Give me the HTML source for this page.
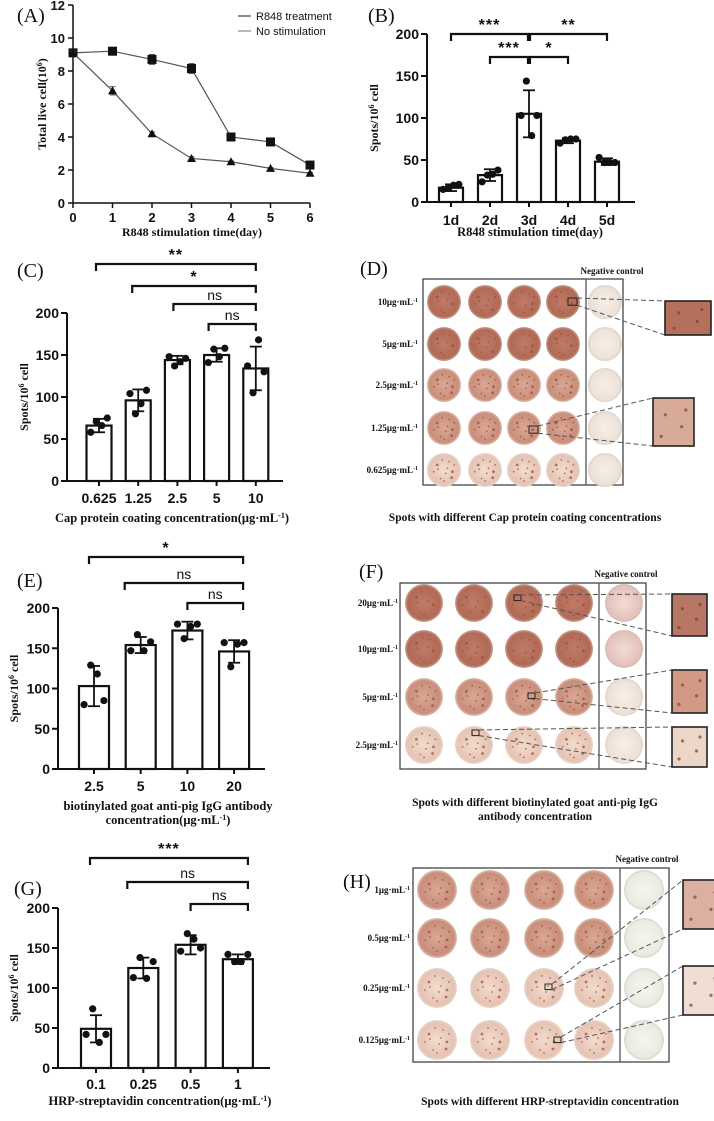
<!DOCTYPE html>
<html><head><meta charset="utf-8"><style>
html,body{margin:0;padding:0;background:#fff}
svg{display:block}
.tk{font-family:"Liberation Sans",sans-serif;font-weight:bold;font-size:13px;fill:#111}
.tt{font-family:"Liberation Serif",serif;font-weight:bold;font-size:12px;fill:#111}
.pl{font-family:"Liberation Serif",serif;font-size:20px;fill:#111}
.sig{font-family:"Liberation Sans",sans-serif;font-size:14px;fill:#111}
.rl{font-family:"Liberation Serif",serif;font-weight:bold;font-size:9px;fill:#111}
</style></head><body>
<svg id="fig" width="714" height="1121" viewBox="0 0 714 1121" xmlns="http://www.w3.org/2000/svg">
<defs>
<radialGradient id="gDark"><stop offset="0" stop-color="#c07a66"/><stop offset="0.85" stop-color="#b06a55"/><stop offset="1" stop-color="#caa092"/></radialGradient>
<radialGradient id="gMed"><stop offset="0" stop-color="#d9a896"/><stop offset="0.85" stop-color="#c98e7a"/><stop offset="1" stop-color="#dcbfb2"/></radialGradient>
<radialGradient id="gLight"><stop offset="0" stop-color="#f2dcd0"/><stop offset="0.85" stop-color="#e6c3b3"/><stop offset="1" stop-color="#e6d6cc"/></radialGradient>
<radialGradient id="gCtrl"><stop offset="0" stop-color="#f6efe8"/><stop offset="0.85" stop-color="#ede2d8"/><stop offset="1" stop-color="#ddd2c8"/></radialGradient>
<radialGradient id="gCtrlP"><stop offset="0" stop-color="#f2dcd6"/><stop offset="0.85" stop-color="#e3c3bc"/><stop offset="1" stop-color="#d8bab2"/></radialGradient>
<radialGradient id="gCtrlG"><stop offset="0" stop-color="#f6f6ee"/><stop offset="0.85" stop-color="#ecebe2"/><stop offset="1" stop-color="#d8d8ce"/></radialGradient>
</defs>
<g id="root"></g>
</svg>
<script>
// Panel A data
const aDays = [0,1,2,3,4,5,6];
const aR848 = [9.1,9.2,8.7,8.15,4.0,3.7,2.3];
const aR848Err = [0.1,0.1,0.3,0.3,0.1,0.1,0.1];
const aNoStim = [9.1,6.8,4.2,2.7,2.5,2.1,1.8];
const aNoStimErr = [0.1,0.25,0.1,0.1,0.05,0.05,0.05];
const aYTicks = [0,2,4,6,8,10,12];
// Panel B data
const bCats = ["1d","2d","3d","4d","5d"];
const bMeans = [17,32,105,73,48];
const bSD = [4,7,28,3,4];
const bPoints = [[15,17,20,21],[24,32,33,38],[103,144,79,103],[70,74,75,75],[53,47,47,47]];
// Panel C data
const cCats = ["0.625","1.25","2.5","5","10"];
const cMeans = [66,96,144,150,134];
const cSD = [8,13,5,8,26];
const cPoints = [[58,71,66,75],[104,80,92,108],[148,137,142,146],[141,157,148,158],[137,105,168,130]];
// Panel E data
const eCats = ["2.5","5","10","20"];
const eMeans = [103,154,172,146];
const eSD = [25,10,11,14];
const ePoints = [[80,129,118,85],[147,167,147,158],[180,162,177,180],[157,127,155,157]];
// Panel G data
const gCats = ["0.1","0.25","0.5","1"];
const gMeans = [49,125,154,136];
const gSD = [17,13,12,6];
const gPoints = [[42,74,32,42],[113,138,112,133],[146,168,161,150],[142,133,133,142]];
const barYTicks = [0,50,100,150,200];

const NS="http://www.w3.org/2000/svg";
const root=document.getElementById('root');
function mk(tag,attrs,parent,text){const e=document.createElementNS(NS,tag);for(const k in attrs)e.setAttribute(k,attrs[k]);if(text!==undefined)e.textContent=text;(parent||root).appendChild(e);return e;}
function line(x1,y1,x2,y2,w,p,c){return mk('line',{x1,y1,x2,y2,stroke:c||'#111','stroke-width':w||1.5},p);}

// Panel A
(function(){
  const g=mk('g',{});
  
  
  const x0=73,x1=310,yb=203,yt=5;
  const X=d=>x0+(x1-x0)*d/6, Y=v=>yb-(yb-yt)*v/12;
  line(x0,yt,x0,yb,1.5,g);line(x0,yb,x1,yb,1.5,g);
  aYTicks.forEach(t=>{line(x0-5,Y(t),x0,Y(t),1.5,g);const tx=mk('text',{x:x0-8,y:Y(t)+5,'text-anchor':'end',class:'tk'},g,t);});
  aDays.forEach(d=>{line(X(d),yb,X(d),yb+5,1.5,g);const tx=mk('text',{x:X(d),y:yb+19,'text-anchor':'middle',class:'tk'},g,d);});
  function series(vals,errs,shape,name){
    const s=mk('g',{},g);
    mk('polyline',{points:vals.map((v,i)=>X(aDays[i])+','+Y(v)).join(' '),fill:'none',stroke:'#555','stroke-width':1.2},s);
    vals.forEach((v,i)=>{const cx=X(aDays[i]),cy=Y(v);
      line(cx,Y(v+errs[i]),cx,Y(v-errs[i]),1,s,'#555');line(cx-3,Y(v+errs[i]),cx+3,Y(v+errs[i]),1,s,'#555');line(cx-3,Y(v-errs[i]),cx+3,Y(v-errs[i]),1,s,'#555');
      let m;
      if(shape==='sq')m=mk('rect',{x:cx-4.5,y:cy-4.5,width:9,height:9,fill:'#111'},s);
      else m=mk('polygon',{points:`${cx},${cy-4.5} ${cx+4.5},${cy+3.5} ${cx-4.5},${cy+3.5}`,fill:'#111'},s);
      });
  }
  series(aR848,aR848Err,'sq','r848-treatment-series');
  series(aNoStim,aNoStimErr,'tri','no-stimulation-series');
  const lg=mk('g',{},g);
  line(238,16,251,16,1.2,lg,'#444');mk('text',{x:256,y:20,class:'tk','font-weight':'normal',style:'font-weight:normal;font-size:11px'},lg,'R848 treatment');
  line(238,31,251,31,1.2,lg,'#888');mk('text',{x:256,y:35,class:'tk',style:'font-weight:normal;font-size:11px'},lg,'No stimulation');
  const yt2=mk('text',{x:0,y:0,class:'tt',transform:`translate(46,104) rotate(-90)`,'text-anchor':'middle'},g);
  yt2.innerHTML='Total live cell(10<tspan dy="-4" font-size="8">6</tspan><tspan dy="4">)</tspan>';
  
  const xt=mk('text',{x:192,y:236,'text-anchor':'middle',class:'tt'},g,'R848 stimulation time(day)');
  
})();

function barChart(o){
  const g=mk('g',{});
  
  
  const Y=v=>o.yb-(o.yb-o.yt)*v/200;
  const X=i=>o.c0+o.step*i;
  line(o.ax,o.yt,o.ax,o.yb,2,g);line(o.ax,o.yb,o.xe,o.yb,2,g);
  barYTicks.forEach(t=>{line(o.ax-6,Y(t),o.ax,Y(t),2,g);const tx=mk('text',{x:o.ax-8,y:Y(t)+5,'text-anchor':'end',class:'tk',style:'font-size:14px'},g,t);});
  o.cats.forEach((c,i)=>{
    const cx=X(i),bw=o.bw,top=Y(o.means[i]);
    line(cx,o.yb,cx,o.yb+5,2,g);
    const tx=mk('text',{x:cx,y:o.tky,'text-anchor':'middle',class:'tk',style:'font-size:14px'},g,c);
    const r=mk('rect',{x:cx-bw/2,y:top,width:bw,height:o.yb-top,fill:'#fff',stroke:'#111','stroke-width':2.2},g);
    
    const eh=Y(o.means[i]+o.sd[i]),el=Y(o.means[i]-o.sd[i]);
    line(cx,eh,cx,el,1.8,g);line(cx-6,eh,cx+6,eh,1.8,g);line(cx-6,el,cx+6,el,1.8,g);
    const offs=[-0.3,-0.1,0.1,0.3];
    o.pts[i].forEach((p,j)=>{const d=mk('circle',{cx:cx+offs[j]*bw*1.1,cy:Y(p),r:3.6,fill:'#111'},g);});
  });
  o.brackets.forEach(b=>{
    const bg=mk('g',{},g);
    const xa=X(b[0])+(b[3]||0),xb=X(b[1])+(b[4]||0);
    mk('polyline',{points:`${xa},${b[2]+7} ${xa},${b[2]} ${xb},${b[2]} ${xb},${b[2]+7}`,fill:'none',stroke:'#111','stroke-width':2.2},bg);
    mk('text',{x:(xa+xb)/2,y:b[2]-4,'text-anchor':'middle',class:'sig',style:b[5]==='ns'?'':'font-size:16px;font-weight:bold;letter-spacing:1px'},bg,b[5]);
  });
  const yt=mk('text',{x:0,y:0,class:'tt',transform:`translate(${o.ytx},${(o.yt+o.yb)/2}) rotate(-90)`,'text-anchor':'middle'},g);
  yt.innerHTML='Spots/10<tspan dy="-4" font-size="8">6</tspan><tspan dy="4"> cell</tspan>';
  
  o.xt.forEach((t,k)=>{const xt=mk('text',{x:o.xtx,y:o.xty+k*14,'text-anchor':'middle',class:'tt',style:'font-size:12.5px'},g);xt.innerHTML=t;});
}
barChart({name:'panel-b-bar-chart',cats:bCats,means:bMeans,sd:bSD,pts:bPoints,ax:427,xe:635,yb:202,yt:34,c0:451,step:39,bw:24,tky:225,ytx:378,xtx:530,xty:236,
  xt:['R848 stimulation time(day)'],
  brackets:[[0,2,34,0,-1,'***'],[2,4,34,1,0,'**'],[1,2,57,0,-1,'***'],[2,3,57,1,0,'*']]});
barChart({name:'panel-c-bar-chart',cats:cCats,means:cMeans,sd:cSD,pts:cPoints,ax:67,xe:283,yb:481,yt:313,c0:99,step:39.2,bw:25,tky:503,ytx:28,xtx:172,xty:522,
  xt:['Cap protein coating concentration(μg·mL<tspan dy="-4" font-size="8">-1</tspan><tspan dy="4">)</tspan>'],
  brackets:[[0,4,264,-3,0,'**'],[1,4,286,-6,0,'*'],[2,4,304,-4,0,'ns'],[3,4,324,-8,0,'ns']]});
barChart({name:'panel-e-bar-chart',cats:eCats,means:eMeans,sd:eSD,pts:ePoints,ax:58,xe:265,yb:769,yt:608,c0:94,step:46.7,bw:30,tky:791,ytx:18,xtx:168,xty:810,
  xt:['biotinylated goat anti-pig IgG antibody','concentration(μg·mL<tspan dy="-4" font-size="8">-1</tspan><tspan dy="4">)</tspan>'],
  brackets:[[0,3,557,-5,9,'*'],[1,3,583,-16,9,'ns'],[2,3,603,0,9,'ns']]});
barChart({name:'panel-g-bar-chart',cats:gCats,means:gMeans,sd:gSD,pts:gPoints,ax:58,xe:270,yb:1068,yt:908,c0:96,step:47.3,bw:30,tky:1089,ytx:18,xtx:160,xty:1105,
  xt:['HRP-streptavidin concentration(μg·mL<tspan dy="-4" font-size="8">-1</tspan><tspan dy="4">)</tspan>'],
  brackets:[[0,3,858,-6,10,'***'],[1,3,882,-16,10,'ns'],[2,3,904,0,10,'ns']]});

// Plates (images)
const spotPattern=[[-0.4,-0.3],[0.3,-0.5],[0.1,0.2],[-0.2,0.5],[0.5,0.1],[-0.6,0.1],[0.2,-0.1],[-0.1,-0.6],[0.45,0.45],[-0.35,-0.05],[0.0,0.65],[0.6,-0.3]];
function plate(o){
  const g=mk('g',{});
  
  
  mk('rect',{x:o.bx,y:o.by,width:o.bw,height:o.bh,fill:'#fff',stroke:'#444','stroke-width':1.3},g);
  line(o.div,o.by,o.div,o.by+o.bh,1.3,g,'#555');
  const nc=mk('text',{x:o.ncx,y:o.ncy,'text-anchor':'middle',class:'rl'},g,'Negative control');
  o.rows.forEach((rw,ri)=>{
    const cy=o.ry[ri];
    const lb=mk('text',{x:o.lx,y:cy+3,'text-anchor':'end',class:'rl'},g);lb.innerHTML=rw[0]+'μg·mL<tspan dy="-3" font-size="6">-1</tspan>';
    
    o.cx.forEach((cx,ci)=>{
      const fill=ci===4?rw[2]:rw[1];
      const w=mk('circle',{cx,cy,r:o.r,fill:'url(#'+fill+')'},g);
      
      if(ci<4)spotPattern.forEach((s,k)=>{if((k+ci)%3!==2||rw[1]!=='gDark')mk('circle',{cx:cx+s[0]*o.r,cy:cy+s[1]*o.r,r:k%4===0?1.4:0.9,fill:'#9a4a35',opacity:0.7},g);});
    });
  });
  o.zooms.forEach(z=>{
    const zg=mk('g',{},g);
    mk('rect',{x:z.sx,y:z.sy,width:z.ss,height:z.ss*0.8,fill:'none',stroke:'#222','stroke-width':1},zg);
    mk('line',{x1:z.sx+z.ss,y1:z.sy,x2:z.x,y2:z.y,stroke:'#555','stroke-width':1,'stroke-dasharray':'5,3'},zg);
    mk('line',{x1:z.sx+z.ss,y1:z.sy+z.ss*0.8,x2:z.x,y2:z.y+z.h,stroke:'#555','stroke-width':1,'stroke-dasharray':'5,3'},zg);
    mk('rect',{x:z.x,y:z.y,width:z.w,height:z.h,fill:z.c,stroke:'#222','stroke-width':1.6},zg);
    [[0.3,0.35],[0.7,0.6],[0.2,0.8],[0.8,0.25]].forEach(p=>mk('circle',{cx:z.x+p[0]*z.w,cy:z.y+p[1]*z.h,r:1.6,fill:'#8a3a25',opacity:0.7},zg));
  });
  o.cap.forEach((t,k)=>{const c=mk('text',{x:o.capx,y:o.capy+k*14,'text-anchor':'middle',class:'tt',style:'font-size:11.5px'},g,t);});
}
plate({name:'panel-d-elispot-plate',bx:423,by:279,bw:200,bh:206,div:586,ncx:612,ncy:274,lx:418,r:17,
  cx:[444,485,524,563,605],ry:[302,344,385,428,470],
  rows:[['10','gDark','gCtrl'],['5','gDark','gCtrl'],['2.5','gMed','gCtrl'],['1.25','gMed','gCtrl'],['0.625','gLight','gCtrl']],
  zooms:[{sx:568,sy:298,ss:9,x:665,y:301,w:46,h:34,c:'#b5705c'},{sx:529,sy:426,ss:9,x:653,y:398,w:41,h:48,c:'#d8ab98'}],
  cap:['Spots with different Cap protein coating concentrations'],capx:525,capy:521});
plate({name:'panel-f-elispot-plate',bx:400,by:583,bw:246,bh:186,div:599,ncx:626,ncy:577,lx:398,r:19,
  cx:[424,474,524,574,624],ry:[603,649,697,745],
  rows:[['20','gDark','gCtrlP'],['10','gDark','gCtrlP'],['5','gMed','gCtrl'],['2.5','gLight','gCtrl']],
  zooms:[{sx:514,sy:595,ss:7,x:672,y:594,w:35,h:42,c:'#b87764'},{sx:528,sy:693,ss:7,x:672,y:670,w:35,h:43,c:'#d29a84'},{sx:472,sy:730,ss:7,x:672,y:727,w:35,h:40,c:'#ecd6c8'}],
  cap:['Spots with different biotinylated goat anti-pig IgG','antibody  concentration'],capx:535,capy:806});
plate({name:'panel-h-elispot-plate',bx:413,by:868,bw:256,bh:194,div:620,ncx:647,ncy:862,lx:410,r:20,
  cx:[437,490,544,594,644],ry:[890,938,988,1040],
  rows:[['1','gMed','gCtrlG'],['0.5','gMed','gCtrlG'],['0.25','gLight','gCtrlG'],['0.125','gLight','gCtrlG']],
  zooms:[{sx:545,sy:984,ss:7,x:683,y:880,w:40,h:49,c:'#dcb0a0'},{sx:554,sy:1037,ss:7,x:683,y:966,w:40,h:49,c:'#f0ddd4'}],
  cap:['Spots with different HRP-streptavidin concentration'],capx:550,capy:1105});

// Panel labels
[['(A)',17,22],['(B)',368,22],['(C)',17,277],['(D)',360,275],['(E)',17,587],['(F)',359,578],['(G)',14,895],['(H)',343,888]].forEach(p=>{
  const t=mk('text',{x:p[1],y:p[2],class:'pl'},root,p[0]);
  
  
});
</script>
</body></html>
